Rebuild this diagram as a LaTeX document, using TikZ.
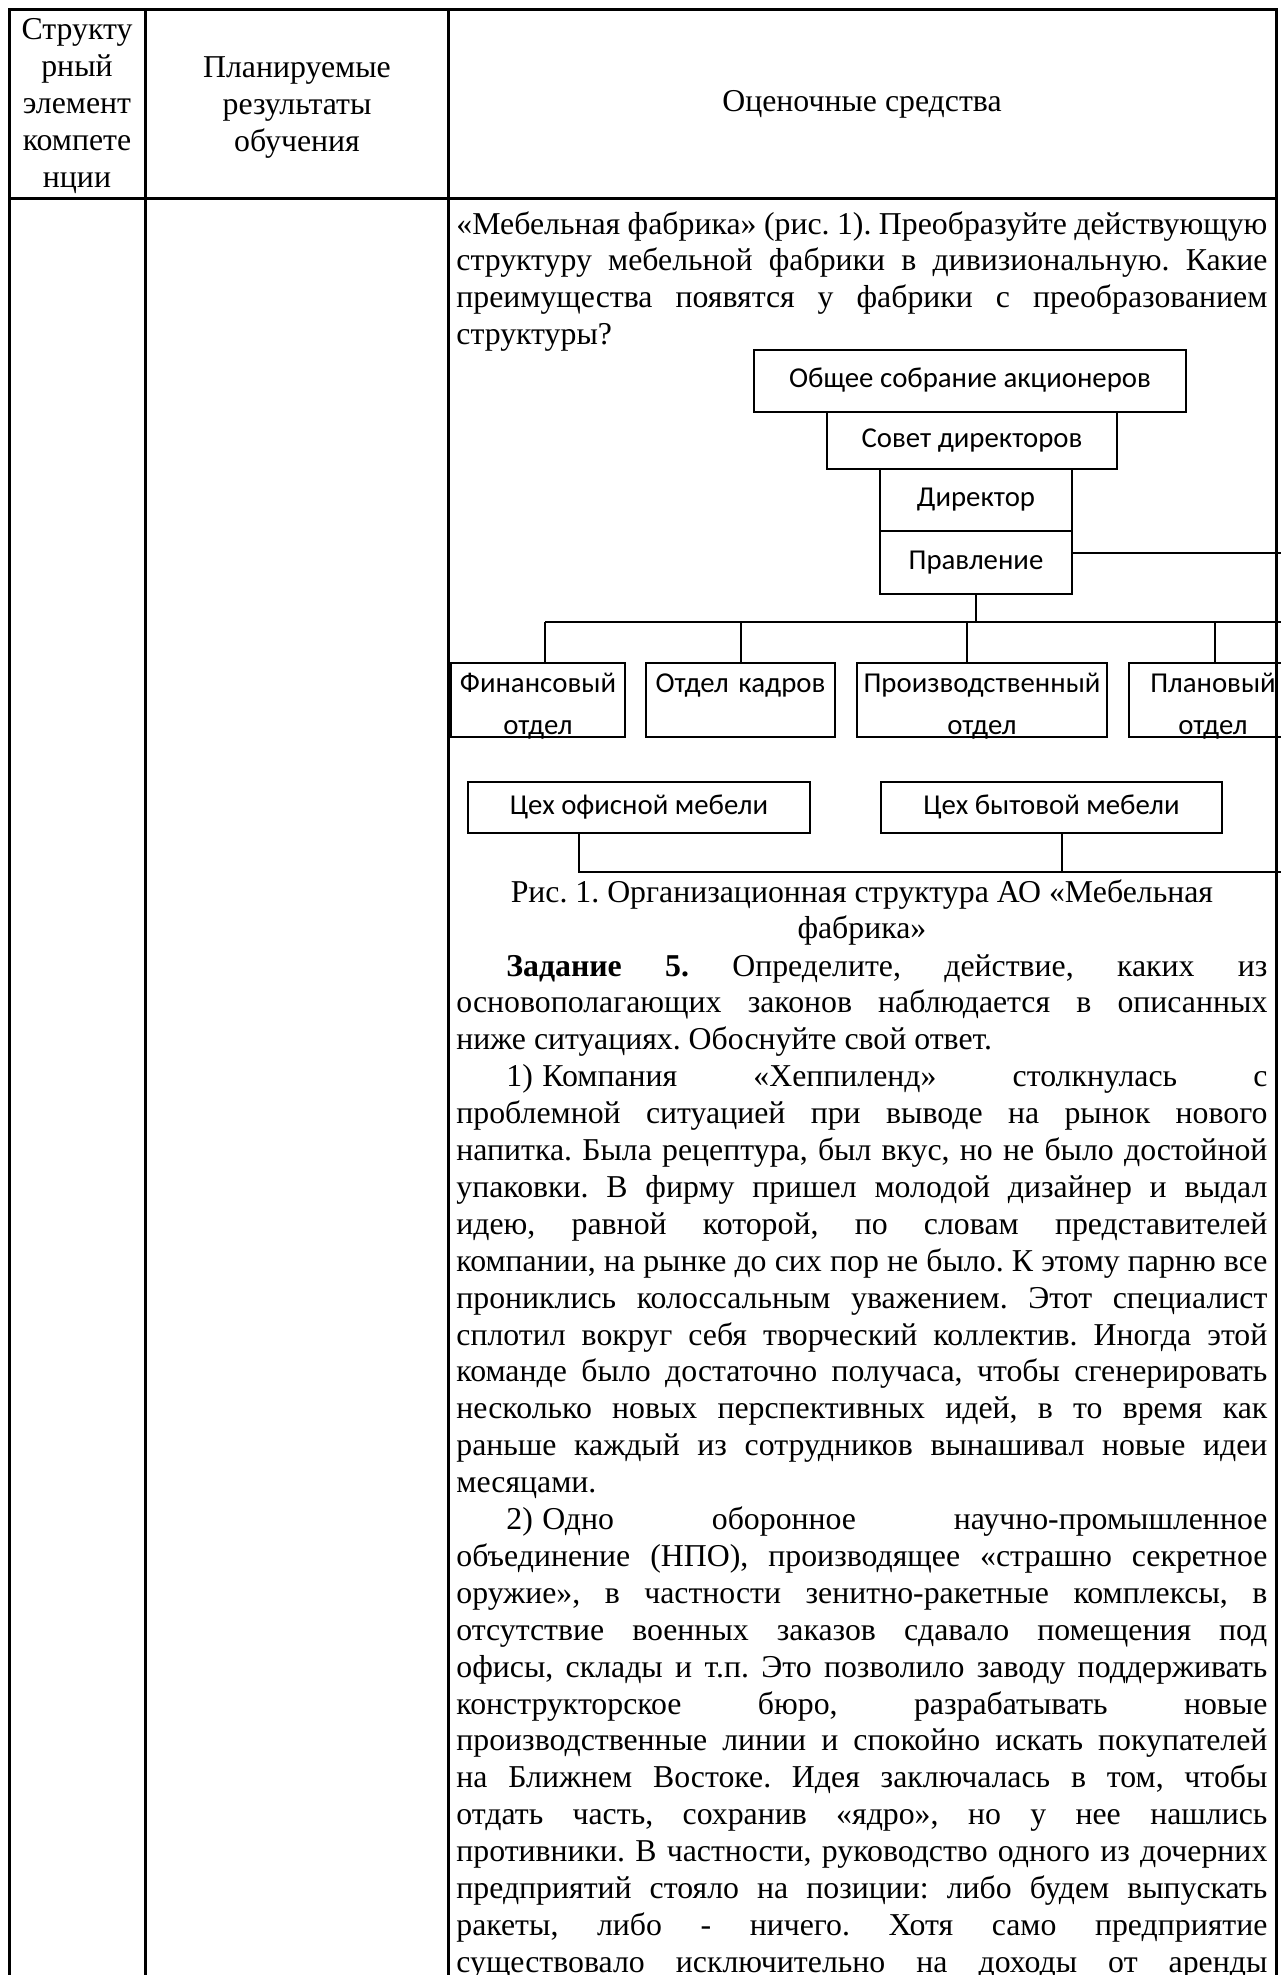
\documentclass[tikz,border=0pt]{standalone}
\usepackage{fontspec}
\setmainfont{Liberation Serif}
\newfontfamily\chartfont{Carlito}
\usetikzlibrary{positioning}

\newlength\colw
\setlength\colw{405.5pt}
\newcommand\tabfont{\fontsize{15.9pt}{18.45pt}\selectfont}
\newcommand\jl[1]{\hbox to\colw{#1}}
\newcommand\lastl[1]{\hbox to\colw{#1\hfil}}
\newcommand\midl[1]{\hbox to\colw{\hfil#1\hfil}}
\newcommand\indl[1]{\hbox to\colw{\hskip25pt\relax#1}}
\hbadness=10000
\hfuzz=20pt
\frenchspacing

\begin{document}
\begin{tikzpicture}[x=0.5pt,y=-0.5pt]
        \tikzstyle{unit} = [rectangle, draw=black, line width=1.2pt, inner sep=0pt, outer sep=0pt, font=\chartfont\fontsize{14.4pt}{21pt}\selectfont, text height=10.1pt, text depth=3.4pt]
        \tikzstyle{dept} = [unit, align=center, minimum height=37pt, text height=14.5pt, text depth=22.5pt]
        \tikzstyle{link} = [line width=1pt]
        \tikzstyle{grid} = [line width=1.5pt, line cap=rect]
        \tikzstyle{cell} = [inner sep=0pt, font=\tabfont, align=center, anchor=base]
        \tikzstyle{body} = [inner sep=0pt, font=\tabfont, anchor=base west]
        \useasboundingbox (0,0) rectangle (1280,1975);

        \node (assembly) [unit, minimum width=216pt, minimum height=31pt] at (970,381) {Общее собрание акционеров};
        \node (board) [unit, minimum width=145pt, minimum height=28.5pt, below=0pt of assembly, xshift=1pt] {Совет директоров};
        \node (director) [unit, minimum width=96pt, minimum height=31pt, below=0pt of board, xshift=2pt] {Директор};
        \node (management) [unit, minimum width=96pt, minimum height=31.5pt, below=0pt of director] {Правление};

        \node (finance) [dept, text width=87pt] at (538,700) {Финансовый\\отдел};
        \node (staff) [dept, text width=94.5pt, right=10.5pt of finance] {Отдел кадров};
        \node (production) [dept, text width=125pt, right=11pt of staff] {Производственный\\отдел};
        \node (planning) [dept, text width=84pt, right=11pt of production] {Плановый\\отдел};

        \node (office) [unit, minimum width=171pt, minimum height=25.5pt] at (639,807.5) {Цех офисной мебели};
        \node (home) [unit, minimum width=170.5pt, minimum height=25.5pt, right=35.5pt of office] {Цех бытовой мебели};

        \coordinate (bus) at (976,622);
        \coordinate (busL) at (545,622);
        \coordinate (busR) at (1300,622);
        \coordinate (corner) at (1300,872);
        \draw [link] (management) -- (bus);
        \draw [link] (busL) -- (busR);
        \foreach \n/\d in {finance/3.5pt, staff/0pt, production/-7.5pt, planning/1pt}
            \draw [link] ([xshift=\d]\n.north) -- ++(0,-41);
        \draw [link] ([yshift=5pt]management.east) -| (corner);
        \draw [link] ([xshift=-30pt]office.south) |- (corner);
        \draw [link] ([xshift=5pt]home.south) -- ++(0,39);

        \draw [grid] (9,10) -- (1276,10);
        \draw [grid] (9,198) -- (1276,198);
        \foreach \x in {9,145,448,1276}
            \draw [grid] (\x,10) -- (\x,1990);

        \node (hcomp) [cell, text width=70pt] at (77,40) {Структу\\рный\\элемент\\компете\\нции};
        \node (hres) [cell, text width=140pt] at (297,78) {Планируемые\\результаты\\обучения};
        \node (heval) [cell] at (862,112) {Оценочные средства};

        \node (question) [body] at (456,234) {\vtop{%
\jl{«Мебельная фабрика» (рис. 1). Преобразуйте действующую}%
\jl{структуру мебельной фабрики в дивизиональную. Какие}%
\jl{преимущества появятся у фабрики с преобразованием}%
\lastl{структуры?}}};

        \node (caption) [body] at (456,902) {\vtop{%
\midl{Рис. 1. Организационная структура АО «Мебельная}%
\midl{фабрика»}}};

        \node (task) [body] at (456,976) {\vtop{%
\indl{\textbf{Задание 5.} Определите, действие, каких из}%
\jl{основополагающих законов наблюдается в описанных}%
\lastl{ниже ситуациях. Обоснуйте свой ответ.}%
\indl{1)\kern0.3em Компания «Хеппиленд» столкнулась с}%
\jl{проблемной ситуацией при выводе на рынок нового}%
\jl{напитка. Была рецептура, был вкус, но не было достойной}%
\jl{упаковки. В фирму пришел молодой дизайнер и выдал}%
\jl{идею, равной которой, по словам представителей}%
\jl{компании, на рынке до сих пор не было. К этому парню все}%
\jl{прониклись колоссальным уважением. Этот специалист}%
\jl{сплотил вокруг себя творческий коллектив. Иногда этой}%
\jl{команде было достаточно получаса, чтобы сгенерировать}%
\jl{несколько новых перспективных идей, в то время как}%
\jl{раньше каждый из сотрудников вынашивал новые идеи}%
\lastl{месяцами.}%
\indl{2)\kern0.3em Одно оборонное научно-промышленное}%
\jl{объединение (НПО), производящее «страшно секретное}%
\jl{оружие», в частности зенитно-ракетные комплексы, в}%
\jl{отсутствие военных заказов сдавало помещения под}%
\jl{офисы, склады и т.п. Это позволило заводу поддерживать}%
\jl{конструкторское бюро, разрабатывать новые}%
\jl{производственные линии и спокойно искать покупателей}%
\jl{на Ближнем Востоке. Идея заключалась в том, чтобы}%
\jl{отдать часть, сохранив «ядро», но у нее нашлись}%
\jl{противники. В частности, руководство одного из дочерних}%
\jl{предприятий стояло на позиции: либо будем выпускать}%
\jl{ракеты, либо - ничего. Хотя само предприятие}%
\jl{существовало исключительно на доходы от аренды}}};
\end{tikzpicture}
\end{document}
